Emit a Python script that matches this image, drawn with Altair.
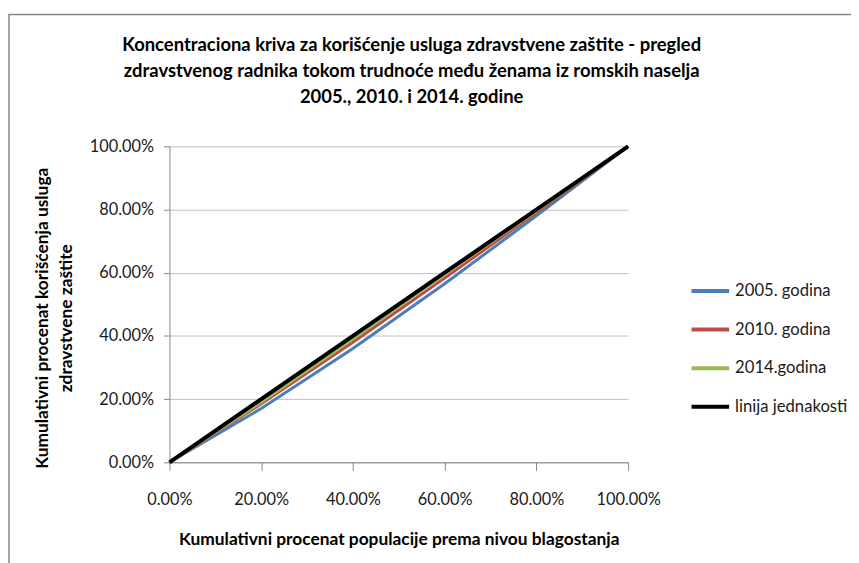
import altair as alt
import pandas as pd

# ---- data ----
pop_share = [0.0, 0.2, 0.4, 0.6, 0.8, 1.0]
y2005 = [0.0, 0.170, 0.360, 0.565, 0.780, 1.0]
y2010 = [0.0, 0.185, 0.380, 0.583, 0.790, 1.0]
y2014 = [0.0, 0.190, 0.390, 0.595, 0.795, 1.0]
equality = [0.0, 0.2, 0.4, 0.6, 0.8, 1.0]
series_names = ["2005. godina", "2010. godina", "2014.godina", "linija jednakosti"]
series_colors = ["#4A7EBB", "#BE4B48", "#98B954", "#000000"]
series_widths = [3, 3, 3, 4]
tick_values = [0.0, 0.2, 0.4, 0.6, 0.8, 1.0]

rows = []
for name, vals, w in zip(series_names, [y2005, y2010, y2014, equality], series_widths):
    for i, (x, y) in enumerate(zip(pop_share, vals)):
        rows.append({"serija": name, "x": x, "y": y, "order": i, "w": w})
df = pd.DataFrame(rows)

FONT = "Lato"

lines = alt.Chart(df).mark_line(strokeCap="butt").encode(
    x=alt.X("x:Q", scale=alt.Scale(domain=[0, 1], nice=False),
            axis=alt.Axis(values=tick_values, format=".2%", grid=False, labelFlush=False,
                          title="Kumulativni procenat populacije prema nivou blagostanja",
                          tickSize=8, labelPadding=22, titlePadding=22)),
    y=alt.Y("y:Q", scale=alt.Scale(domain=[0, 1], nice=False),
            axis=alt.Axis(values=tick_values, format=".2%", grid=True, labelFlush=False,
                          title=["Kumulativni procenat korišćenja usluga", "zdravstvene zaštite"],
                          tickSize=6, labelPadding=10, titlePadding=14, titleY=173,
                          titleLineHeight=24)),
    color=alt.Color("serija:N",
                    scale=alt.Scale(domain=series_names, range=series_colors),
                    legend=alt.Legend(title=None, orient="none", legendX=525, legendY=125,
                                      symbolType="stroke", symbolSize=1444,
                                      symbolStrokeWidth=4, labelOffset=4, rowPadding=9,
                                      labelFontSize=16.8, labelFont=FONT, labelColor="#1a1a1a")),
    strokeWidth=alt.StrokeWidth("w:Q", scale=None),
    order="order:Q",
)

border = alt.Chart(pd.DataFrame({"a": [0]})).mark_rect(
    fill=None, stroke="#868686", strokeWidth=1.5
).encode(x=alt.value(-162), y=alt.value(-133), x2=alt.value(700), y2=alt.value(440))

chart = alt.layer(border, lines).properties(
    width=463,
    height=319,
    padding={"left": 163, "top": 137, "right": 225, "bottom": 99},
    autosize=alt.AutoSizeParams(type="none"),
    title=alt.TitleParams(
        text=["Koncentraciona kriva za korišćenje usluga zdravstvene zaštite - pregled",
              "zdravstvenog radnika tokom trudnoće među ženama iz romskih naselja",
              "2005., 2010. i 2014. godine"],
        font=FONT, fontSize=18.6, fontWeight="bold", color="#000000",
        lineHeight=26.5, anchor="middle", offset=-94, dx=13,
    ),
).configure_view(stroke=None).configure_axis(
    labelFont=FONT, labelFontSize=16.5, labelColor="#1a1a1a",
    titleFont=FONT, titleFontSize=17.5, titleFontWeight="bold", titleColor="#000000",
    domainColor="#868686", tickColor="#868686", gridColor="#c0c0c0",
    domainWidth=1, tickWidth=1, gridWidth=1,
)

chart.save("out.html", embed_options={"renderer": "svg", "actions": False})
